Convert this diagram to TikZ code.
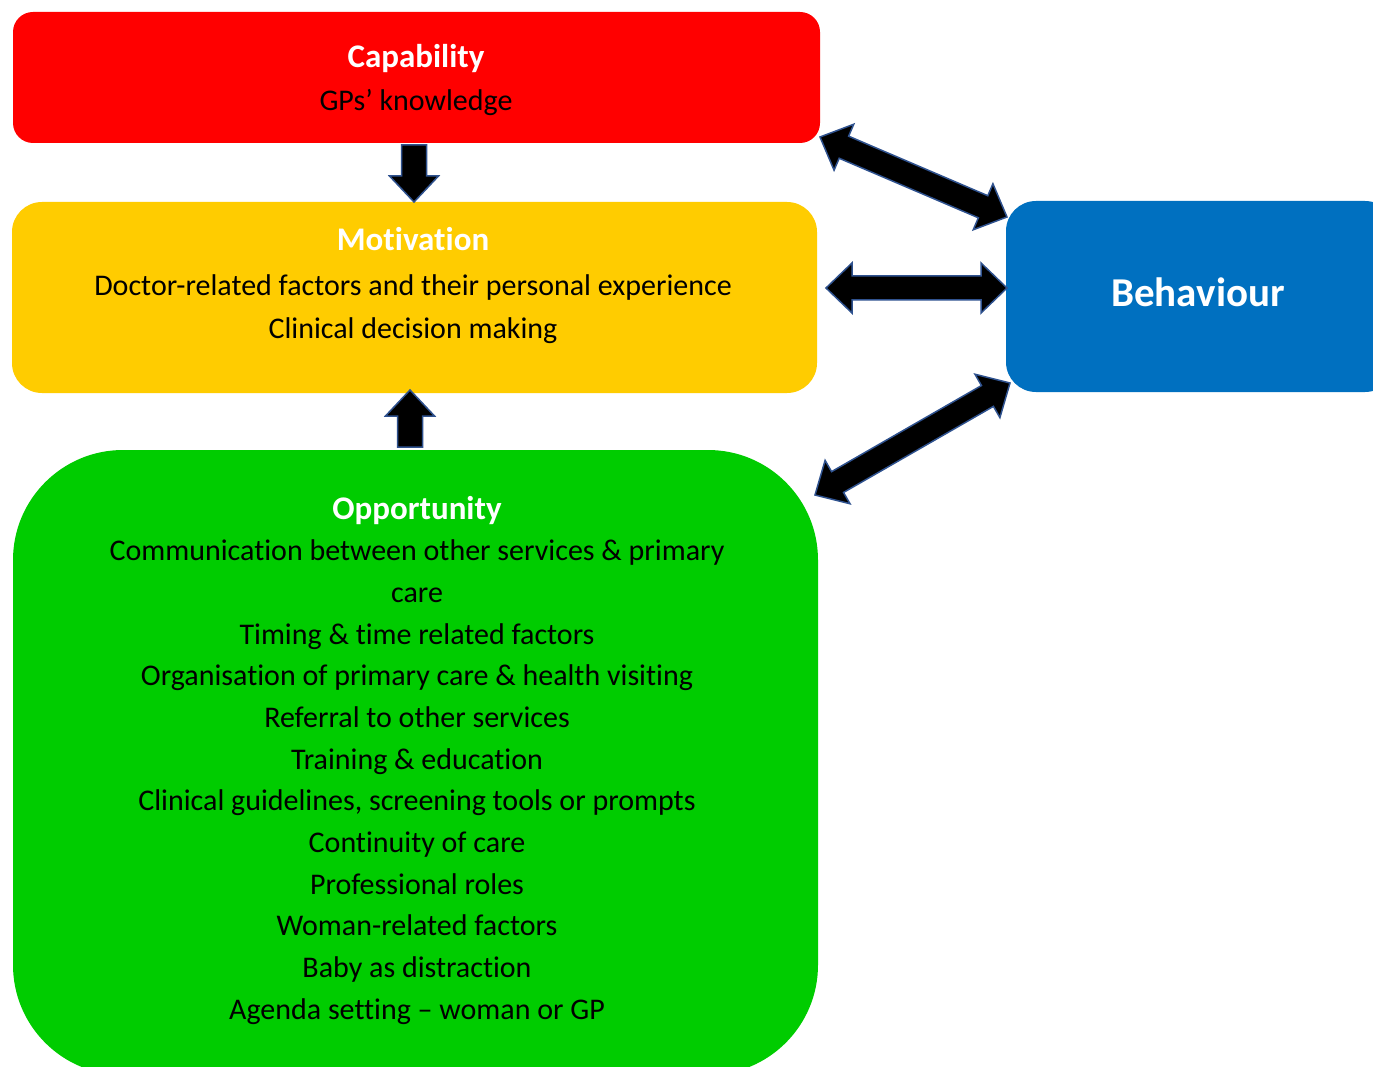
\documentclass[tikz,border=0pt]{standalone}
\usepackage{fontspec}
\setmainfont{Carlito}[Ligatures=NoCommon]
\usetikzlibrary{calc}
\definecolor{capred}{HTML}{FF0000}
\definecolor{motyellow}{HTML}{FFCC00}
\definecolor{oppgreen}{HTML}{00CC00}
\definecolor{behblue}{HTML}{0070C0}
\definecolor{arrowedge}{HTML}{2F528F}
\tikzset{
  box/.style={draw=none, inner sep=0pt, outer sep=0pt},
  heading/.style={anchor=base, inner sep=0pt, text=white, font=\bfseries\fontsize{33}{40}\selectfont},
  bodytext/.style={anchor=base, inner sep=0pt, text=black, font=\fontsize{30}{36}\selectfont},
  blockarrow/.style={fill=black, draw=arrowedge, line width=1.5pt, line join=miter}
}
\newcommand\dblblockarrow[2]{%
  \path let \p1=(#1), \p2=(#2), \n1={atan2(\y2-\y1,\x2-\x1)}, \n2={veclen(\x2-\x1,\y2-\y1)} in
    \pgfextra{\xdef\arrang{\n1}\xdef\arrlen{\n2}};
  \begin{scope}[shift={(#1)}, rotate=\arrang, x=1pt, y=1pt]
    \draw[blockarrow] (0,0) -- (26,25) -- (26,12) -- (\arrlen-26,12) -- (\arrlen-26,25)
      -- (\arrlen,0) -- (\arrlen-26,-25) -- (\arrlen-26,-12) -- (26,-12) -- (26,-25) -- cycle;
  \end{scope}}
\newcommand\oneblockarrow[2]{%
  \path let \p1=(#1), \p2=(#2), \n1={atan2(\y2-\y1,\x2-\x1)}, \n2={veclen(\x2-\x1,\y2-\y1)} in
    \pgfextra{\xdef\arrang{\n1}\xdef\arrlen{\n2}};
  \begin{scope}[shift={(#1)}, rotate=\arrang, x=1pt, y=1pt]
    \draw[blockarrow] (0,-12.5) -- (\arrlen-26,-12.5) -- (\arrlen-26,-24.5) -- (\arrlen,0)
      -- (\arrlen-26,24.5) -- (\arrlen-26,12.5) -- (0,12.5) -- cycle;
  \end{scope}}
\begin{document}
\begin{tikzpicture}[x=1pt, y=-1pt]
  \clip (0,0) rectangle (1373,1067);
  \fill[white] (0,0) rectangle (1373,1067);

  % boxes
  \node[box, fill=capred, minimum width=807pt, minimum height=131pt, rounded corners=20pt] (cap) at (416.5,77.5) {};
  \node[box, fill=motyellow, minimum width=805pt, minimum height=191pt, rounded corners=30pt] (mot) at (414.5,297.5) {};
  \node[box, fill=oppgreen, minimum width=805pt, minimum height=625pt, rounded corners=110pt] (opp) at (415.5,762.5) {};
  \node[box, fill=behblue, minimum width=389pt, minimum height=191pt, rounded corners=30pt] (beh) at (1200.5,296.5) {};

  % texts
  \node[heading] (capT) at (416,68) {Capability};
  \node[bodytext] (capB) at (416,111) {GPs’ knowledge};

  \node[heading] (motT) at (413,251) {Motivation};
  \node[bodytext] (motB1) at (413,296) {Doctor-related factors and their personal experience};
  \node[bodytext] (motB2) at (413,338) {Clinical decision making};

  \node[heading] (oppT) at (417,519.5) {Opportunity};
  \foreach \t [count=\i] in {
      {Communication between other services \& primary},
      {care},
      {Timing \& time related factors},
      {Organisation of primary care \& health visiting},
      {Referral to other services},
      {Training \& education},
      {Clinical guidelines, screening tools or prompts},
      {Continuity of care},
      {Professional roles},
      {Woman-related factors},
      {Baby as distraction},
      {Agenda setting – woman or GP}}
    \node[bodytext] (oppB\i) at (417,{560.8+41.67*(\i-1)}) {\t};

  \node[heading, font=\bfseries\fontsize{41}{48}\selectfont] (behT) at (1198,306) {Behaviour};

  % arrow end points
  \coordinate (capS) at (414,145);
  \coordinate (motN) at (414,202);
  \coordinate (oppN) at (410,447);
  \coordinate (motS) at (410,390);
  \coordinate (motE) at (826,288);
  \coordinate (behW) at (1007,288);
  \coordinate (capE) at (820,137);
  \coordinate (behNW) at (1007,217);
  \coordinate (oppNE) at (815,495);
  \coordinate (behSW) at (1010,383);

  % arrows
  \oneblockarrow{capS}{motN}
  \oneblockarrow{oppN}{motS}
  \dblblockarrow{motE}{behW}
  \dblblockarrow{capE}{behNW}
  \dblblockarrow{oppNE}{behSW}
\end{tikzpicture}
\end{document}
